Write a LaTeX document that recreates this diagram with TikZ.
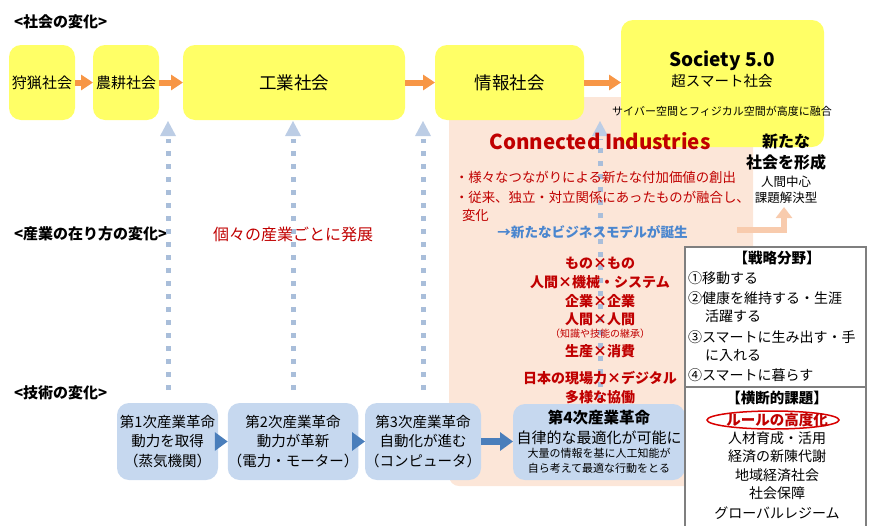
\documentclass[tikz,border=0pt]{standalone}
\usepackage{fontspec}
\setmainfont{Noto Sans CJK JP}
\usetikzlibrary{arrows.meta,shapes.geometric}
\definecolor{yel}{HTML}{FFFF66}
\definecolor{oarrc}{HTML}{F79646}
\definecolor{peach}{HTML}{FCE6D8}
\definecolor{bbox}{HTML}{C6D8EF}
\definecolor{barrc}{HTML}{4A7EBB}
\definecolor{dotc}{HTML}{A9BEDA}
\definecolor{dotheadc}{HTML}{BCCDE5}
\definecolor{redt}{HTML}{C00000}
\definecolor{bluet}{HTML}{4A86CF}
\definecolor{lorange}{HTML}{F8CBAD}
\definecolor{grayb}{HTML}{7F7F7F}
\newcommand\fsz[2]{\fontsize{#1}{#2}\selectfont}
\tikzset{
  ybox/.style={fill=yel, rounded corners=12pt, inner sep=0pt},
  tbox/.style={fill=bbox, rounded corners=12pt, inner sep=0pt, align=center},
  oarr/.style={draw=oarrc, line width=6pt, -{Triangle[width=15pt,length=12pt]}},
  barr/.style={draw=barrc, line width=7pt, -{Triangle[width=18pt,length=13pt]}},
  bentarr/.style={draw=lorange, line width=6pt, -{Triangle[width=16pt,length=11pt]}},
  dotline/.style={draw=dotc, line width=5pt, dash pattern=on 5pt off 8pt},
  dothead/.style={fill=dotheadc},
  rbox/.style={draw=grayb, line width=2pt, fill=white, inner sep=0pt},
  hdr/.style={font=\bfseries\fsz{15}{17}, anchor=west},
  redc/.style={text=redt, font=\bfseries\fsz{14}{16}},
}
\begin{document}
\begin{tikzpicture}[x=1pt,y=-1pt, every node/.style={inner sep=0pt, outer sep=0pt}]
\useasboundingbox (0,0) rectangle (869,525);
\clip (0,0) rectangle (869,525);

% peach background
\fill[peach, rounded corners=10pt] (449,97) rectangle (753,486);

% section headers
\node[hdr] (h1) at (14,22) {<社会の変化>};
\node[hdr] (h2) at (14,234) {<産業の在り方の変化>};
\node[hdr] (h3) at (14,393) {<技術の変化>};

% dotted arrows
\foreach \i/\x/\yb in {1/168/390, 2/293/390, 3/423/390, 4/600/400} {
  \coordinate (dt\i) at (\x,121);
  \coordinate (ds\i) at (\x,139);
  \coordinate (db\i) at (\x,\yb);
  \draw[dotline] (db\i) -- (ds\i);
  \fill[dothead] (dt\i) -- ++(-8,15) -- ++(16,0) -- cycle;
}

% society boxes
\node[ybox, minimum width=66pt, minimum height=75pt, font=\fsz{15}{18}] (hunt) at (42,82.5) {狩猟社会};
\node[ybox, minimum width=66pt, minimum height=75pt, font=\fsz{15}{18}] (agri) at (126,82.5) {農耕社会};
\node[ybox, minimum width=222pt, minimum height=75pt, font=\fsz{17.5}{20}] (ind) at (294,82.5) {工業社会};
\node[ybox, minimum width=149pt, minimum height=75pt, font=\fsz{17.5}{20}] (info) at (509.5,82.5) {情報社会};
\node[ybox, minimum width=203pt, minimum height=127pt] (soc) at (722.5,83.5) {};
\node[font=\bfseries\fsz{19}{22}] (soctitle) at (722,61) {Society 5.0};
\node[font=\fsz{14.5}{17}] (socsub) at (722,81) {超スマート社会};
\node[font=\fsz{11}{13}] (socdesc) at (722,111) {サイバー空間とフィジカル空間が高度に融合};

\draw[oarr] (hunt) -- (agri);
\draw[oarr] (agri) -- (ind);
\draw[oarr] (ind) -- (info);
\draw[oarr] (info.east) -- (info.east -| soc.west);

% industry
\node[text=redt, font=\fsz{16}{19}, anchor=west] (indiv) at (213,234) {個々の産業ごとに発展};
\node[text=redt, font=\bfseries\fsz{20.5}{24}] (ci) at (600,141) {Connected Industries};
\node[text=redt, font=\fsz{13.4}{16}, anchor=west] (b1) at (455,177) {・様々なつながりによる新たな付加価値の創出};
\node[text=redt, font=\fsz{13.4}{16}, anchor=west] (b2) at (455,197) {・従来、独立・対立関係にあったものが融合し、};
\node[text=redt, font=\fsz{13.4}{16}, anchor=west] (b3) at (462,215) {変化};
\node[text=bluet, font=\bfseries\fsz{13.6}{16}] (bm) at (592.5,232) {→新たなビジネスモデルが誕生};

\node[redc] (r1) at (600,263) {もの×もの};
\node[redc] (r2) at (600,282) {人間×機械・システム};
\node[redc] (r3) at (600,301) {企業×企業};
\node[redc] (r4) at (600,319) {人間×人間};
\node[text=redt, font=\fsz{10}{12}] (r5) at (600,334) {（知識や技能の継承）};
\node[redc] (r6) at (600,351) {生産×消費};
\node[redc] (r7) at (600,378) {日本の現場力×デジタル};
\node[redc] (r8) at (600,397) {多様な協働};

% new society
\node[font=\bfseries\fsz{16}{19}] (new1) at (786,142) {新たな};
\node[font=\bfseries\fsz{16}{19}] (new2) at (786,162) {社会を形成};
\node[font=\fsz{12.5}{15}] (new3) at (786,182) {人間中心};
\node[font=\fsz{12.5}{15}] (new4) at (786,198) {課題解決型};
\coordinate (bstart) at (737,230);
\coordinate (bend) at (784,207);
\draw[bentarr] (bstart) -| (bend);

% technology
\node[tbox, minimum width=101pt, minimum height=77pt, font=\fsz{14.5}{19.5}] (tb1) at (167.5,441.5) {第1次産業革命\\動力を取得\\（蒸気機関）};
\node[tbox, minimum width=100pt, minimum height=77pt, font=\fsz{14.5}{19.5}] (tb2) at (293,441.5) {第2次産業革命\\動力が革新\\（電力・モーター）};
\node[tbox, minimum width=108pt, minimum height=77pt, font=\fsz{14.5}{19.5}] (tb3) at (423,441.5) {第3次産業革命\\自動化が進む\\（コンピュータ）};
\node[tbox, minimum width=172pt, minimum height=76pt] (tb4) at (599,442) {};
\node[font=\bfseries\fsz{15.5}{18}] (f1) at (599,418) {第4次産業革命};
\node[font=\fsz{15}{18}] (f2) at (599,438) {自律的な最適化が可能に};
\node[font=\fsz{11}{13}] (f3) at (599,453) {大量の情報を基に人工知能が};
\node[font=\fsz{11}{13}] (f4) at (599,468) {自ら考えて最適な行動をとる};

\draw[barr] (tb1) -- (tb2);
\draw[barr] (tb2) -- (tb3);
\draw[barr] (tb3.east) -- (tb3.east -| tb4.west);

% right boxes
\node[rbox, minimum width=181pt, minimum height=140pt, anchor=north west] (strat) at (685,247) {};
\node[font=\bfseries\fsz{14.5}{17}] (sh) at (777,258) {【戦略分野】};
\node[font=\fsz{14}{17}, anchor=west] (s1) at (688,278) {①移動する};
\node[font=\fsz{14}{17}, anchor=west] (s2) at (688,298) {②健康を維持する・生涯};
\node[font=\fsz{14}{17}, anchor=west] (s3) at (705,316) {活躍する};
\node[font=\fsz{14}{17}, anchor=west] (s4) at (688,337) {③スマートに生み出す・手};
\node[font=\fsz{14}{17}, anchor=west] (s5) at (705,355) {に入れる};
\node[font=\fsz{14}{17}, anchor=west] (s6) at (688,375) {④スマートに暮らす};

\node[rbox, minimum width=181pt, minimum height=140pt, anchor=north west] (cross) at (685,387) {};
\node[font=\bfseries\fsz{14.5}{17}] (ch) at (777,398) {【横断的課題】};
\node[draw=red!85!black, ellipse, line width=1.5pt, minimum width=132pt, minimum height=18pt] (ell) at (773,420) {};
\node[text=redt, font=\bfseries\fsz{14.5}{17}] (c1) at (777,420) {ルールの高度化};
\node[font=\fsz{14}{17}] (c2) at (777,438) {人材育成・活用};
\node[font=\fsz{14}{17}] (c3) at (777,456) {経済の新陳代謝};
\node[font=\fsz{14}{17}] (c4) at (777,475) {地域経済社会};
\node[font=\fsz{14}{17}] (c5) at (777,493) {社会保障};
\node[font=\fsz{14}{17}] (c6) at (777,513) {グローバルレジーム};
\end{tikzpicture}
\end{document}
